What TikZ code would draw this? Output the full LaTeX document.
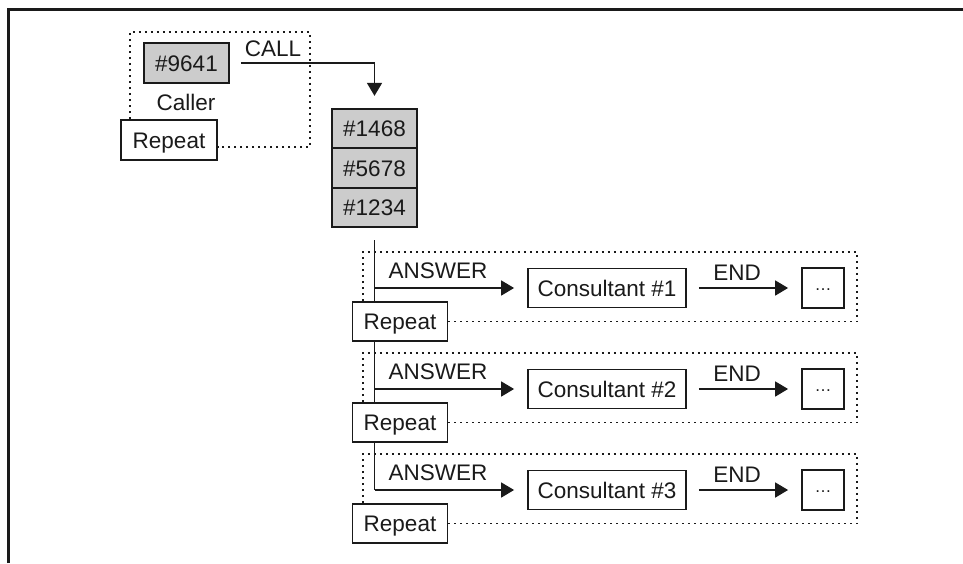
\documentclass[tikz,border=0pt]{standalone}
\usepackage{fontspec}
\setmainfont{Liberation Sans}
\usetikzlibrary{arrows.meta,calc}
\definecolor{boxgray}{HTML}{CCCCCC}
\definecolor{ink}{HTML}{1A1A1A}
\begin{document}
\begin{tikzpicture}[x=1pt,y=-1pt,
  every node/.style={font=\fontsize{22.5}{27}\selectfont, text=ink, text height=16pt, text depth=0pt, inner sep=0pt},
  box/.style={draw=ink, line width=1.8pt, fill=white, minimum height=39pt},
  cellbox/.style={box, fill=boxgray, minimum width=85pt, minimum height=39.5pt},
  repbox/.style={box, minimum width=95pt},
  consbox/.style={box, minimum width=158pt},
  etcbox/.style={box, minimum width=42pt, minimum height=40pt},
  conn/.style={draw=ink, line width=1.7pt},
  arrow/.style={conn, -{Triangle[length=13pt,width=15pt]}},
  dots/.style={draw=ink, line width=1.6pt, dash pattern=on 2pt off 4pt},
]
\useasboundingbox (0,0) rectangle (963,563);

% outer frame
\draw[line width=3pt, ink] (8,563) -- (8,9.5) -- (963,9.5);

% caller group
\node[box, fill=boxgray, minimum width=85pt, minimum height=40pt] (caller) at (186.5,63) {\#9641};
\node (callerlbl) at (186,102.5) {Caller};
\node[repbox, minimum width=96pt, minimum height=40pt] (rep0) at (169,140) {Repeat};
\coordinate (g0l) at (130,32);
\coordinate (g0r) at (310,147);
\draw[dots] (rep0.north -| g0l) -- (g0l) -- (g0r |- g0l) -- (g0r) -- (rep0.east |- g0r);

% queue of waiting calls
\node[cellbox] (s1) at (374.5,128.5) {\#1468};
\node[cellbox] (s2) at (374.5,168) {\#5678};
\node[cellbox] (s3) at (374.5,207.5) {\#1234};

\draw[arrow, shorten <=11pt, shorten >=12pt] (caller.east) -| (s1.north);
\node (calllbl) at (273,48) {CALL};

% consultants
\foreach \i/\y in {1/288, 2/389, 3/490} {
  \node[consbox] (c\i) at (607,\y) {Consultant \#\i};
  \node[etcbox] (d\i) at (823,\y) {\raisebox{6pt}{\fontsize{17}{17}\selectfont …}};
  \node (ans\i) at (438,\y-17.5) {ANSWER};
  \node (end\i) at (737,\y-15.5) {END};
  \draw[arrow, shorten <=12pt, shorten >=13pt] (c\i.east) -- (d\i.west);
}

% trunk from the queue to every consultant
\coordinate (trunktop) at ($(s3.south)+(0,12)$);
\draw[conn] (trunktop) -- (trunktop |- c3.west);
\foreach \i in {1,2,3} {
  \draw[arrow, shorten >=13pt] (trunktop |- c\i.west) -- (c\i.west);
}

% repeat boxes and dotted group frames
\foreach \i/\y in {1/288, 2/389, 3/490} {
  \node[repbox] (rep\i) at (400,\y+33.5) {Repeat};
  \coordinate (gl\i) at (363,\y-36);
  \coordinate (gr\i) at (857,\y+33.5);
  \draw[dots] (rep\i.north -| gl\i) -- (gl\i) -- (gr\i |- gl\i) -- (gr\i) -- (rep\i.east);
}
\end{tikzpicture}
\end{document}
